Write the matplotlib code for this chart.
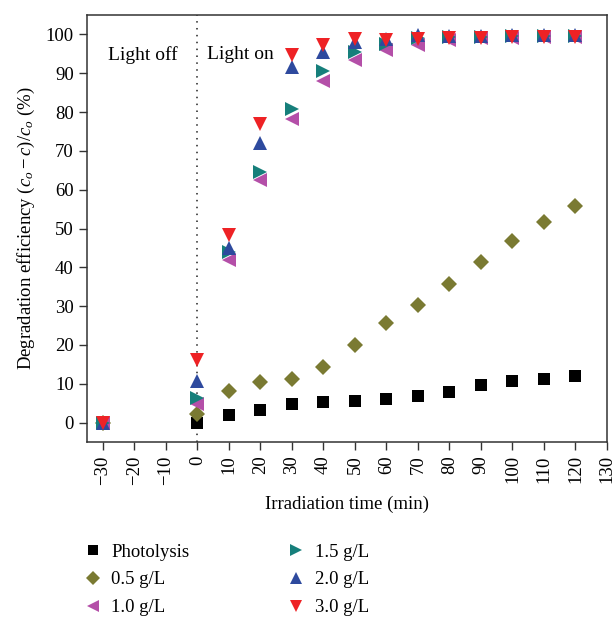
import matplotlib.pyplot as plt
from matplotlib.lines import Line2D

plt.rcParams["font.family"] = ["Liberation Serif", "DejaVu Serif"]
plt.rcParams["mathtext.fontset"] = "custom"
plt.rcParams["mathtext.rm"] = "Liberation Serif"
plt.rcParams["mathtext.it"] = "Liberation Serif:italic"

tempo = [-30, 0, 10, 20, 30, 40, 50, 60, 70, 80, 90, 100, 110, 120]

fotolise = [0.0, 0.0, 2.0, 3.2, 4.9, 5.2, 5.5, 6.2, 6.8, 8.0, 9.7, 10.6, 11.3, 12.1]
c05 = [0.0, 2.2, 8.2, 10.4, 11.3, 14.4, 20.0, 25.6, 30.4, 35.8, 41.3, 46.7, 51.7, 55.8]
c10 = [0.0, 4.8, 41.8, 62.4, 78.3, 88.1, 93.3, 95.9, 97.2, 98.6, 99.0, 99.2, 99.3, 99.4]
c15 = [0.0, 6.3, 44.0, 64.5, 80.7, 90.5, 95.6, 97.6, 99.0, 99.3, 99.4, 99.5, 99.5, 99.6]
c20 = [0.0, 10.8, 45.0, 72.0, 91.6, 95.5, 98.0, 98.9, 99.8, 99.7, 99.7, 99.8, 99.8, 99.8]
c30 = [0.0, 16.0, 48.2, 77.0, 94.6, 97.2, 98.9, 98.5, 98.8, 99.1, 99.2, 99.3, 99.4, 99.4]

series = [
    ("Photolysis", fotolise, "s", "#000000", 8.5),
    ("0.5 g/L", c05, "D", "#7a7a32", 8),
    ("1.0 g/L", c10, "<", "#b44fa8", 10.5),
    ("1.5 g/L", c15, ">", "#167f7b", 10.5),
    ("2.0 g/L", c20, "^", "#2e4a9e", 10.5),
    ("3.0 g/L", c30, "v", "#ee2225", 10.5),
]

fig = plt.figure(figsize=(6.15, 6.18), dpi=100)
ax = fig.add_axes([0.1415, 0.2848, 0.8455, 0.6909])

handles = []
for nome, valores, marcador, cor, tam in series:
    if nome == "Photolysis":
        xs, ys = tempo[1:], valores[1:]
    else:
        xs, ys = tempo, valores
    ax.plot(xs, ys, linestyle="none", marker=marcador, color=cor,
            markersize=tam, markeredgewidth=0)
    handles.append(Line2D([], [], linestyle="none", marker=marcador, color=cor,
                          markersize=tam * 0.85, markeredgewidth=0, label=nome))

ax.axvline(0, color="#222222", linestyle=(0, (1, 3.5)), linewidth=1.1, zorder=0)
ax.text(-28.5, 94.7, "Light off", fontsize=14, ha="left", va="center")
ax.text(3, 94.7, "Light on", fontsize=14, ha="left", va="center")

ax.set_xlim(-35, 130)
ax.set_ylim(-5, 105)
ax.set_xticks(range(-30, 131, 10))
ax.set_xticklabels(["\u221230", "\u221220", "\u221210"] + [str(v) for v in range(0, 131, 10)],
                   rotation=90)
ax.set_yticks(range(0, 101, 10))
ax.tick_params(labelsize=13.5, length=6, width=1, direction="out", color="#333333")
for lado in ax.spines.values():
    lado.set_color("#333333")
    lado.set_linewidth(1.1)

ax.set_xlabel("Irradiation time (min)", fontsize=13.5, labelpad=8)
ax.set_ylabel(r"Degradation efficiency $(c_o - c)/c_o$ (%)", fontsize=13.5, labelpad=6)

fig.legend(handles=handles, ncol=2, loc="upper left", bbox_to_anchor=(0.105, 0.148),
           frameon=False, fontsize=13.5, handletextpad=0.4, columnspacing=5.07,
           labelspacing=0.57, handlelength=1.2)

fig.savefig("out.png", dpi=100)
